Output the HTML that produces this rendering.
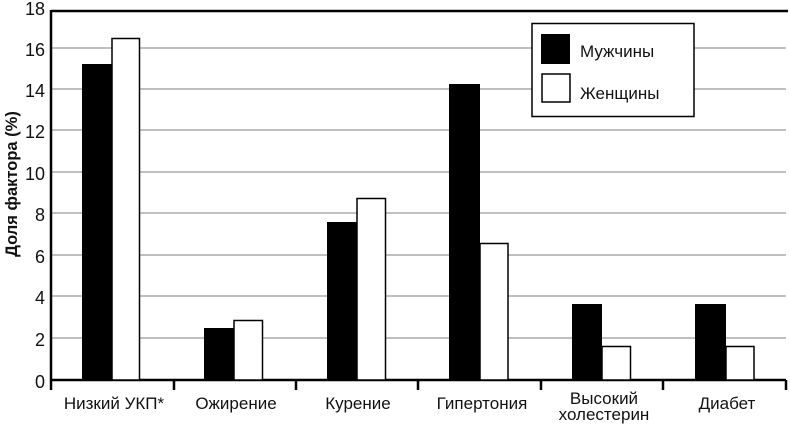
<!DOCTYPE html>
<html><head><meta charset="utf-8"><style>
html,body{margin:0;padding:0;background:#fff;}
svg text{font-family:"Liberation Sans",sans-serif;fill:#111;}
</style></head><body>
<svg width="790" height="424" viewBox="0 0 790 424" xmlns="http://www.w3.org/2000/svg">
<g stroke="#999" stroke-width="1.2">
<line x1="51" y1="48" x2="786" y2="48"/><line x1="51" y1="89" x2="786" y2="89"/>
<line x1="51" y1="130" x2="786" y2="130"/><line x1="51" y1="172" x2="786" y2="172"/>
<line x1="51" y1="213" x2="786" y2="213"/><line x1="51" y1="255" x2="786" y2="255"/>
<line x1="51" y1="296" x2="786" y2="296"/><line x1="51" y1="338" x2="786" y2="338"/>
</g>
<g stroke="#000" stroke-width="2.5" fill="none">
<line x1="51" y1="11" x2="788" y2="11"/>
<line x1="51" y1="10" x2="51" y2="390"/>
<line x1="50" y1="380" x2="786" y2="380"/>
<line x1="174" y1="380" x2="174" y2="390"/><line x1="296" y1="380" x2="296" y2="390"/>
<line x1="418" y1="380" x2="418" y2="390"/><line x1="541" y1="380" x2="541" y2="390"/>
<line x1="663" y1="380" x2="663" y2="390"/><line x1="786" y1="380" x2="786" y2="390"/>
</g>
<g fill="#000">
<rect x="82" y="64" width="30" height="316"/>
<rect x="204" y="328" width="30" height="52"/>
<rect x="327" y="222" width="30" height="158"/>
<rect x="449" y="84" width="31" height="296"/>
<rect x="572" y="304" width="30" height="76"/>
<rect x="695" y="304" width="31" height="76"/>
</g>
<g fill="#fff" stroke="#000" stroke-width="1.5">
<rect x="112" y="38.5" width="27.5" height="341.5"/>
<rect x="234" y="320.5" width="28.5" height="59.5"/>
<rect x="357" y="198.5" width="28.5" height="181.5"/>
<rect x="480" y="243.5" width="28" height="136.5"/>
<rect x="602" y="346.5" width="28.5" height="33.5"/>
<rect x="726" y="346.5" width="28" height="33.5"/>
</g>
<g font-size="18" text-anchor="end">
<text x="45" y="15">18</text><text x="45" y="56">16</text><text x="45" y="97">14</text>
<text x="45" y="138">12</text><text x="45" y="180">10</text><text x="45" y="221">8</text>
<text x="45" y="263">6</text><text x="45" y="304">4</text><text x="45" y="346">2</text>
<text x="45" y="388">0</text>
</g>
<text transform="translate(17,184) rotate(-90)" font-size="16.5" font-weight="bold" text-anchor="middle">Доля фактора (%)</text>
<g font-size="17" text-anchor="middle">
<text x="114" y="409">Низкий УКП*</text>
<text x="236" y="409">Ожирение</text>
<text x="358" y="409">Курение</text>
<text x="482" y="409">Гипертония</text>
<text x="604" y="404">Высокий</text>
<text x="604" y="420">холестерин</text>
<text x="727" y="409">Диабет</text>
</g>
<rect x="532" y="23.5" width="162" height="93" fill="#fff" stroke="#000" stroke-width="1.5"/>
<rect x="541" y="34" width="29" height="30" fill="#000"/>
<rect x="542" y="74" width="28" height="28" fill="#fff" stroke="#000" stroke-width="1.5"/>
<g font-size="17"><text x="580" y="57">Мужчины</text><text x="580" y="99">Женщины</text></g>
</svg>
</body></html>
